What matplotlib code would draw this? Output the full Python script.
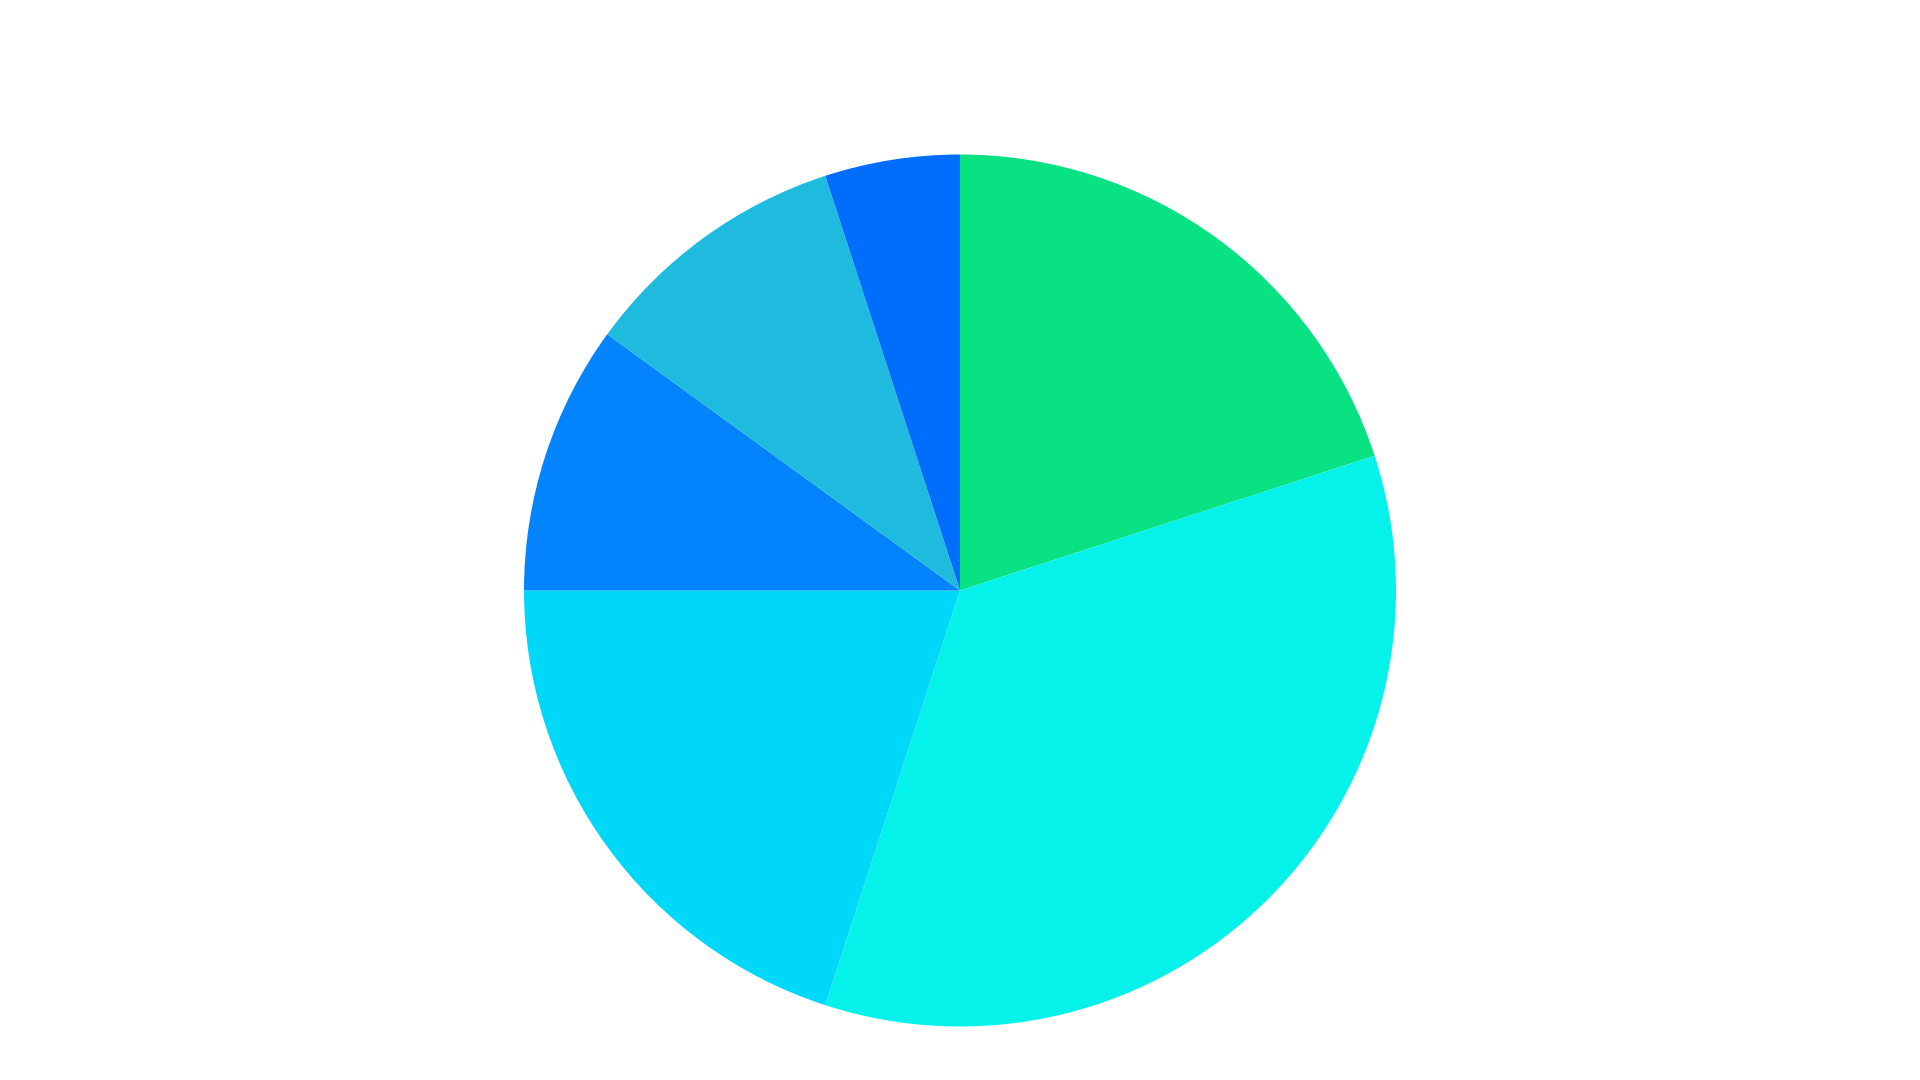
import matplotlib
matplotlib.use("Agg")
import matplotlib.pyplot as plt

# slices clockwise from 12 o'clock
SHARES = [20, 35, 20, 10, 10, 5]
COLORS = ["#08E283", "#05F2EB", "#00D8FA", "#0384FC", "#1EBBDE", "#006EFC"]

W, H = 1920, 1080
CX, CY, R = 960, 590.5, 436

fig = plt.figure(figsize=(W / 100, H / 100), dpi=100)
ax = fig.add_axes([(CX - R) / W, (H - CY - R) / H, 2 * R / W, 2 * R / H])
ax.pie(SHARES, colors=COLORS, startangle=90, counterclock=False,
       radius=1.0, wedgeprops=dict(linewidth=0))
ax.set_xlim(-1, 1)
ax.set_ylim(-1, 1)
ax.set_aspect("equal")
ax.axis("off")
fig.savefig("out.png", dpi=100, facecolor="white")
